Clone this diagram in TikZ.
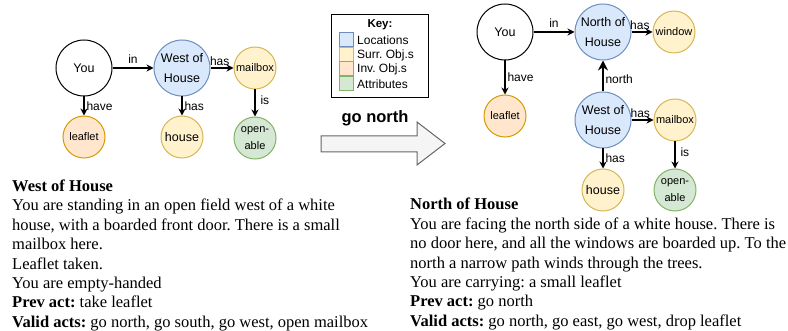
\documentclass[tikz,border=0pt]{standalone}
\usepackage{fontspec}
\setmainfont{Liberation Serif}
\setsansfont{Liberation Sans}
\usetikzlibrary{arrows.meta}
\frenchspacing
\definecolor{locF}{HTML}{DAE8FC}\definecolor{locD}{HTML}{6C8EBF}
\definecolor{surF}{HTML}{FFF2CC}\definecolor{surD}{HTML}{D6B656}
\definecolor{invF}{HTML}{FFE6CC}\definecolor{invD}{HTML}{D79B00}
\definecolor{attF}{HTML}{D5E8D4}\definecolor{attD}{HTML}{82B366}
\definecolor{arrF}{HTML}{F5F5F5}\definecolor{arrD}{HTML}{666666}
\tikzset{
  circ/.style={circle, draw, line width=1pt, inner sep=0pt, align=center},
  big/.style={circ, minimum size=56pt, font=\sffamily\fontsize{12.5}{19.5}\selectfont},
  small/.style={circ, minimum size=42pt, font=\sffamily\fontsize{11}{17}\selectfont},
  loc/.style={fill=locF, draw=locD},
  surr/.style={fill=surF, draw=surD},
  inv/.style={fill=invF, draw=invD},
  attr/.style={fill=attF, draw=attD},
  arr/.style={-{Stealth[length=7pt,width=7pt]}, line width=1.1pt},
  lab/.style={font=\sffamily\fontsize{12}{14}\selectfont, inner sep=1pt},
  body/.style={font=\fontsize{16.5}{19.43}\selectfont, align=left, inner sep=0pt, anchor=north west},
  keysq/.style={draw, line width=1pt, minimum size=14pt, inner sep=0pt},
  keytx/.style={font=\sffamily\fontsize{12}{14}\selectfont, anchor=west, inner sep=0pt},
}
\begin{document}
\begin{tikzpicture}[x=1pt,y=-1pt]
\useasboundingbox (0,0) rectangle (788,331);
% ---------- left graph ----------
\node[big] (lyou) at (84,68) {You};
\node[big, loc] (lwoh) at (182,68) {West of\\House};
\node[small, surr] (lmail) at (255,68) {mailbox};
\node[small, inv] (lleaf) at (84,137) {leaflet};
\node[small, surr, font=\sffamily\fontsize{12.5}{15}\selectfont] (lhouse) at (182,137) {house};
\node[small, attr] (lopen) at (255,138) {open-\\able};
\draw[arr] (lyou) -- node[lab, above=3pt] {in} (lwoh);
\draw[arr] (lwoh) -- node[lab, above=1pt, pos=0.4] {has} (lmail);
\draw[arr] (lyou) -- node[lab, right=1pt] {have} (lleaf);
\draw[arr] (lwoh) -- node[lab, right=1pt] {has} (lhouse);
\draw[arr] (lmail) -- node[lab, right=4pt, pos=0.4] {is} (lopen);
% ---------- key ----------
\node[draw, line width=1pt, minimum width=97pt, minimum height=83pt, anchor=north west] (key) at (331,14) {};
\node[font=\sffamily\bfseries\fontsize{11.5}{13}\selectfont] (keyt) at (380,25) {Key:};
\node[keysq, loc] (k1) at (346,40) {};
\node[keysq, surr] (k2) at (346,55) {};
\node[keysq, inv] (k3) at (346,69) {};
\node[keysq, attr] (k4) at (346,84) {};
\node[keytx] (k1t) at (357,40) {Locations};
\node[keytx] (k2t) at (357,55) {Surr. Obj.s};
\node[keytx] (k3t) at (357,69) {Inv. Obj.s};
\node[keytx] (k4t) at (357,84) {Attributes};
% ---------- big arrow ----------
\node[font=\sffamily\bfseries\fontsize{16.5}{18}\selectfont] (act) at (375,118) {go north};
\draw[fill=arrF, draw=arrD, line width=1pt] (321,136) -- (417,136) -- (417,122) -- (445,143.5) -- (417,165) -- (417,152) -- (321,152) -- cycle;
% ---------- right graph ----------
\node[big] (ryou) at (505,32) {You};
\node[big, loc] (rnoh) at (603,32) {North of\\House};
\node[small, surr] (rwin) at (674,32) {window};
\node[small, inv] (rleaf) at (505,116) {leaflet};
\node[big, loc] (rwoh) at (603,120) {West of\\House};
\node[small, surr] (rmail) at (675,120) {mailbox};
\node[small, surr, font=\sffamily\fontsize{12.5}{15}\selectfont] (rhouse) at (603,190) {house};
\node[small, attr] (ropen) at (675,190) {open-\\able};
\draw[arr] (ryou) -- node[lab, above=3pt] {in} (rnoh);
\draw[arr] (rnoh) -- node[lab, above=1pt, pos=0.4] {has} (rwin);
\draw[arr] (ryou) -- node[lab, right=1pt] {have} (rleaf);
\draw[-{Stealth[length=10pt,width=10pt]}, line width=1.1pt] (rwoh) -- node[lab, right=1pt, pos=0.4] {north} (rnoh);
\draw[arr] (rwoh) -- node[lab, above=1pt, pos=0.4] {has} (rmail);
\draw[arr] (rwoh) -- node[lab, right=1pt] {has} (rhouse);
\draw[arr] (rmail) -- node[lab, right=4pt, pos=0.4] {is} (ropen);
% ---------- texts ----------
\node[body] (ltext) at (12,179.5) {\textbf{West of House}\\
You are standing in an open field west of a white\\
house, with a boarded front door. There is a small\\
mailbox here.\\
Leaflet taken.\\
You are empty-handed\\
\textbf{Prev act:} take leaflet\\
\textbf{Valid acts:} go north, go south, go west, open mailbox};
\node[body] (rtext) at (410,198) {\textbf{North of House}\\
You are facing the north side of a white house. There is\\
no door here, and all the windows are boarded up. To the\\
north a narrow path winds through the trees.\\
You are carrying: a small leaflet\\
\textbf{Prev act:} go north\\
\textbf{Valid acts:} go north, go east, go west, drop leaflet};
\end{tikzpicture}
\end{document}
